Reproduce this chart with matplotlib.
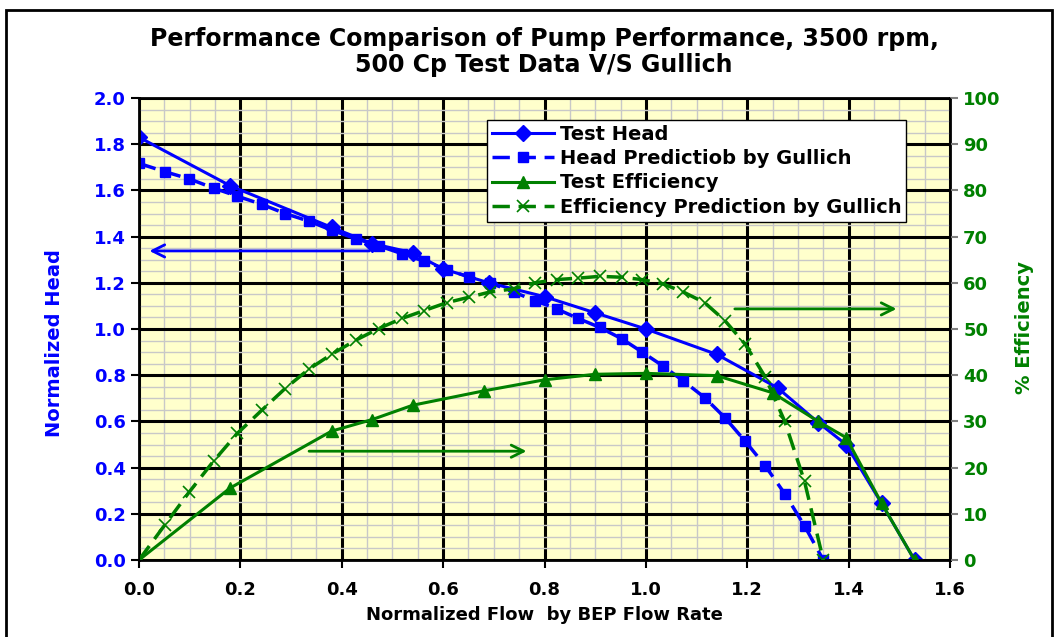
import numpy as np
import matplotlib.pyplot as plt
from matplotlib.patches import Rectangle
from matplotlib.ticker import MultipleLocator, FormatStrFormatter

plt.rcParams['font.family'] = ['DejaVu Sans']
plt.rcParams['font.weight'] = 'bold'

# test data (normalized flow, head, efficiency)
q_test = [0.0, 0.18, 0.38, 0.46, 0.54, 0.60, 0.69, 0.80, 0.90, 1.0, 1.14, 1.26, 1.34, 1.395, 1.465, 1.53]
head_test = [1.83, 1.62, 1.44, 1.37, 1.33, 1.26, 1.20, 1.14, 1.07, 1.0, 0.89, 0.745, 0.595, 0.50, 0.245, 0.0]
q_eff = [0.0, 0.18, 0.38, 0.46, 0.54, 0.68, 0.80, 0.90, 1.0, 1.14, 1.25, 1.34, 1.395, 1.465, 1.53]
eff_test = [0, 15.6, 27.9, 30.4, 33.5, 36.6, 39.0, 40.2, 40.4, 39.9, 36.2, 30.0, 26.5, 12.3, 0]

# Gullich prediction
q_pred = [0.0, 0.051, 0.099, 0.147, 0.194, 0.243, 0.288, 0.335, 0.381, 0.428, 0.473, 0.519,
          0.563, 0.607, 0.652, 0.692, 0.739, 0.781, 0.824, 0.866, 0.909, 0.953, 0.992, 1.033,
          1.074, 1.116, 1.156, 1.196, 1.235, 1.274, 1.313, 1.35]
head_pred = [1.717, 1.681, 1.65, 1.61, 1.575, 1.539, 1.50, 1.467, 1.427, 1.391, 1.36, 1.326,
             1.293, 1.257, 1.225, 1.20, 1.16, 1.123, 1.087, 1.046, 1.007, 0.957, 0.901, 0.841,
             0.775, 0.703, 0.616, 0.514, 0.409, 0.287, 0.148, 0.0]
eff_pred = [0, 7.6, 14.7, 21.4, 27.4, 32.5, 37.1, 41.3, 44.6, 47.6, 50.1, 52.3,
            54.0, 55.7, 56.9, 58.0, 58.7, 60.0, 60.7, 61.0, 61.4, 61.2, 60.7, 59.8,
            58.0, 55.7, 51.8, 46.7, 39.7, 30.0, 17.0, 0]

BLUE = '#0000FF'
GREEN = '#008000'

fig = plt.figure(figsize=(10.58, 6.37), dpi=100)
ax = fig.add_axes([139/1058, 1-560/637, 811/1058, 462/637])
ax.set_facecolor('#FFFFCC')
ax.set_xlim(0, 1.6)
ax.set_ylim(0, 2.0)
ax.xaxis.set_major_locator(MultipleLocator(0.2))
ax.xaxis.set_minor_locator(MultipleLocator(0.05))
ax.yaxis.set_major_locator(MultipleLocator(0.2))
ax.yaxis.set_minor_locator(MultipleLocator(0.05))
ax.xaxis.set_major_formatter(FormatStrFormatter('%.1f'))
ax.yaxis.set_major_formatter(FormatStrFormatter('%.1f'))
ax.grid(which='minor', color='#C8C8C8', lw=1.0)
ax.grid(which='major', color='black', lw=2.2)
ax.set_axisbelow(True)
ax.tick_params(which='minor', length=0)
ax.tick_params(which='major', direction='out', length=6, width=1.5)
ax.tick_params(axis='y', labelcolor=BLUE, color='black', labelsize=13)
ax.tick_params(axis='x', labelsize=13, pad=9)
for s in ax.spines.values():
    s.set_linewidth(2)

ax2 = ax.twinx()
ax2.set_ylim(0, 100)
ax2.yaxis.set_major_locator(MultipleLocator(10))
ax2.tick_params(axis='y', labelcolor=GREEN, color='#808080', labelsize=13,
                direction='out', length=6, width=1.5)

h1, = ax.plot(q_test, head_test, color=BLUE, lw=2.2, marker='D', ms=8, label='Test Head')
h2, = ax.plot(q_pred, head_pred, color=BLUE, lw=2.5, ls=(0, (5, 2.5)), marker='s', ms=7,
              label='Head Predictiob by Gullich')
h3, = ax2.plot(q_eff, eff_test, color=GREEN, lw=2.2, marker='^', ms=9, label='Test Efficiency')
h4, = ax2.plot(q_pred, eff_pred, color=GREEN, lw=2.5, ls=(0, (5, 2.5)), marker='x', ms=9,
               mew=1.2, label='Efficiency Prediction by Gullich')

# direction arrows
ax.annotate('', xy=(0.015, 1.338), xytext=(0.46, 1.338),
            arrowprops=dict(arrowstyle='->', color=BLUE, lw=2, mutation_scale=22))
ax.annotate('', xy=(0.77, 0.471), xytext=(0.33, 0.471),
            arrowprops=dict(arrowstyle='->', color=GREEN, lw=2, mutation_scale=22))
ax.annotate('', xy=(1.50, 1.087), xytext=(1.17, 1.087),
            arrowprops=dict(arrowstyle='->', color=GREEN, lw=2, mutation_scale=22))

leg = ax2.legend(handles=[h1, h2, h3, h4], loc='upper left', bbox_to_anchor=(0.429, 0.953),
                 fancybox=False, framealpha=1, edgecolor='black', fontsize=14,
                 handlelength=3.2, handletextpad=0.3, borderpad=0.25, labelspacing=0.28,
                 borderaxespad=0)
leg.get_frame().set_linewidth(1)

ax.set_xlabel('Normalized Flow  by BEP Flow Rate', fontsize=13, fontweight='bold', labelpad=5)
fig.text(55/1058, 1-343/637, 'Normalized Head', rotation=90, color=BLUE, fontsize=14,
         fontweight='bold', ha='center', va='center')
fig.text(1024/1058, 1-327/637, '% Efficiency', rotation=90, color=GREEN, fontsize=14,
         fontweight='bold', ha='center', va='center')
fig.text(544/1058, 1-52/637, 'Performance Comparison of Pump Performance, 3500 rpm,\n500 Cp Test Data V/S Gullich',
         fontsize=17, fontweight='bold', ha='center', va='center', linespacing=1.15)

fig.patches.append(Rectangle((6/1058, -0.05), 1046/1058, 1.05 - 10/637, transform=fig.transFigure,
                             fill=False, edgecolor='black', lw=2))

fig.savefig('out.png', dpi=100)
